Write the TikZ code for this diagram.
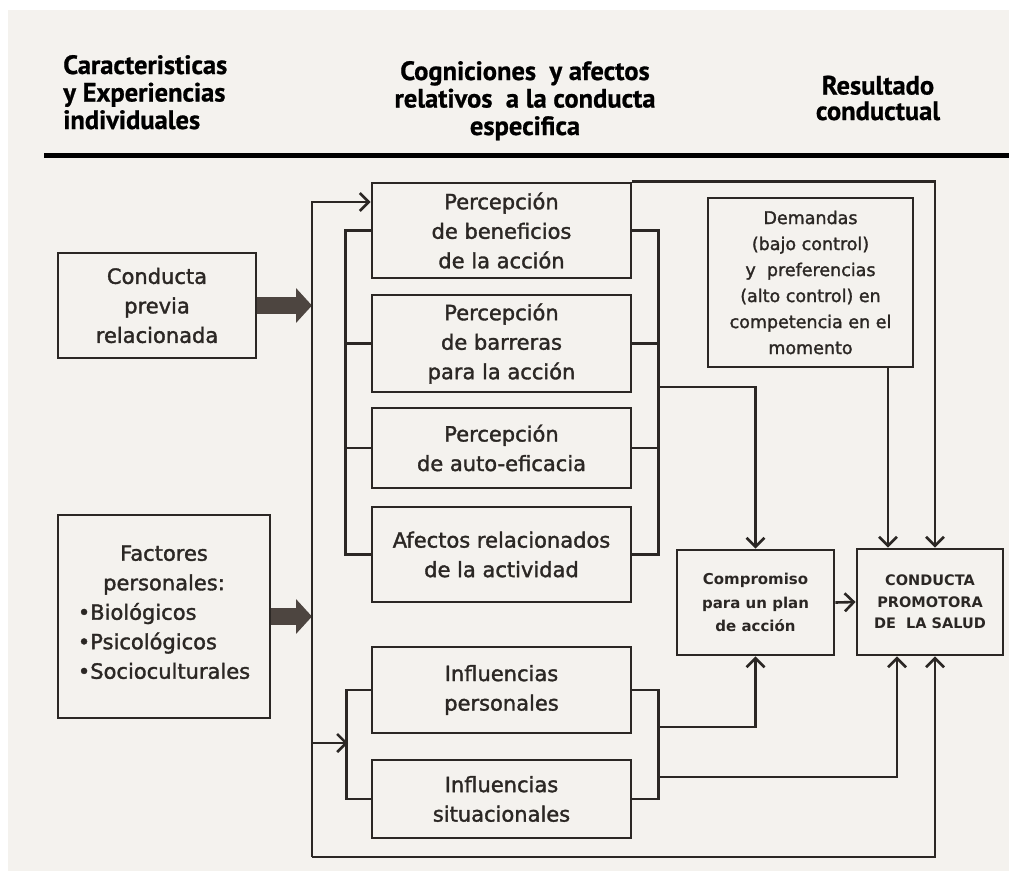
\documentclass[tikz,border=0pt]{standalone}
\usepackage{fontspec}
\setmainfont{DejaVu Sans}
\newfontfamily\boxfont{DejaVu Sans}[FakeBold=1.6]
\newfontfamily\headfont{PT Sans}[FakeBold=0.8]
\usetikzlibrary{arrows.meta,positioning}
\definecolor{ink}{HTML}{2B2724}
\definecolor{paper}{HTML}{F4F2EE}
\definecolor{fatgray}{HTML}{4D4540}

\begin{document}
\begin{tikzpicture}[x=1pt,y=-1pt,color=ink,line width=2.6pt,
  >={Straight Barb[length=9pt,width=18pt]},
  box/.style={draw,line width=2.8pt,align=center,inner sep=0pt,
    font=\boxfont\fontsize{21}{29.5}\selectfont},
  head/.style={inner sep=0pt,text=black,font=\headfont\bfseries\fontsize{26.5}{27.5}\selectfont},
  fat/.style={line width=17pt,draw=fatgray,-{Triangle[length=16pt,width=34pt]}}]
\useasboundingbox (0,0) rectangle (1009,871);
\fill[white] (0,0) rectangle (1009,871);
\fill[paper] (8,10) rectangle (1009,871);

% encabezado
\node[head,anchor=base west,align=left] (hcar) at (62,129) {Caracteristicas\\y Experiencias\\individuales};
\node[head,anchor=base,align=center] (hcog) at (525,135) {Cogniciones\ \ y afectos\\relativos\ \ a la conducta\\especifica};
\node[head,anchor=base,align=center,font=\headfont\bfseries\fontsize{26.5}{25.5}\selectfont] (hres) at (878,120) {Resultado\\conductual};
\draw[line width=5pt,black] (44,155) -- (1009,155);

% columna izquierda
\node[box,minimum width=198pt,minimum height=105pt] (previa) at (157,305.5) {Conducta\\previa\\relacionada};
\node[box,minimum width=212pt,minimum height=203pt] (factores) at (164,616.5)
  {Factores\\personales:\\\begin{tabular}[t]{@{}l@{}}•Biológicos\\•Psicológicos\\•Socioculturales\end{tabular}};

% columna central
\node[box,minimum width=259pt,minimum height=95pt] (benef) at (501.5,230.5) {Percepción\\de beneficios\\de la acción};
\node[box,minimum width=259pt,minimum height=97pt] (barreras) at (501.5,343.5) {Percepción\\de barreras\\para la acción};
\node[box,minimum width=259pt,minimum height=80pt] (auto) at (501.5,448) {Percepción\\de auto-eficacia};
\node[box,minimum width=259pt,minimum height=95pt] (afectos) at (501.5,554.5) {Afectos relacionados\\de la actividad};
\node[box,minimum width=259pt,minimum height=86pt] (infper) at (501.5,690) {Influencias\\personales};
\node[box,minimum width=259pt,minimum height=78pt] (infsit) at (501.5,799) {Influencias\\situacionales};

% columna derecha
\node[box,minimum width=205pt,minimum height=169pt,font=\boxfont\fontsize{17.5}{26}\selectfont] (demandas) at (810.5,282.5)
  {Demandas\\(bajo control)\\y\ \ preferencias\\(alto control) en\\competencia en el\\momento};
\node[box,minimum width=157pt,minimum height=105pt,font=\bfseries\fontsize{15}{23.5}\selectfont] (compromiso) at (755.5,602.5)
  {Compromiso\\para un plan\\de acción};
\node[box,minimum width=146pt,minimum height=106pt,font=\bfseries\fontsize{14.5}{21.5}\selectfont] (promotora) at (930,602)
  {CONDUCTA\\PROMOTORA\\DE\ \ LA SALUD};

\coordinate (bustop) at (312,202);
\coordinate (busbot) at (312,857);
\coordinate (businf) at (312,743);
\coordinate (rbar) at (657,387);
\coordinate (rper) at (657,727);
\coordinate (rsit) at (657,777);
\path (promotora.north) ++(-42,0) coordinate (pT1) ++(47,0) coordinate (pT2);
\path (promotora.south) ++(-33,0) coordinate (pB1) ++(38,0) coordinate (pB2);

% flechas gruesas
\draw[fat] (previa.east) -- (previa.east -| bustop);
\draw[fat] (factores.east) -- (factores.east -| bustop);

% bus principal
\draw[->] (busbot) -- (bustop) -- (bustop -| benef.west);
\draw[->] (busbot) -| (pB2);
\draw[->] (businf) -- ++(36,0);

% percepciones
\draw (benef.west) -- ++(-25,0) |- (afectos.west);
\draw (barreras.west) -- ++(-25,0);
\draw (auto.west) -- ++(-25,0);
\draw (benef.east) -- ++(26,0) |- (afectos.east);
\draw (barreras.east) -- ++(26,0);
\draw (auto.east) -- ++(26,0);
\draw[->] (rbar) -| (compromiso.north);
\draw[->] (benef.north east) -| (pT2);

% influencias
\draw (infper.west) -- ++(-24,0) |- (infsit.west);
\draw (infper.east) -- ++(26,0) |- (infsit.east);
\draw[->] (rper) -| (compromiso.south);
\draw[->] (rsit) -| (pB1);

% resultado
\draw[->] (demandas.south -| pT1) -- (pT1);
\draw[->] (compromiso.east) -- (promotora.west);
\end{tikzpicture}
\end{document}
